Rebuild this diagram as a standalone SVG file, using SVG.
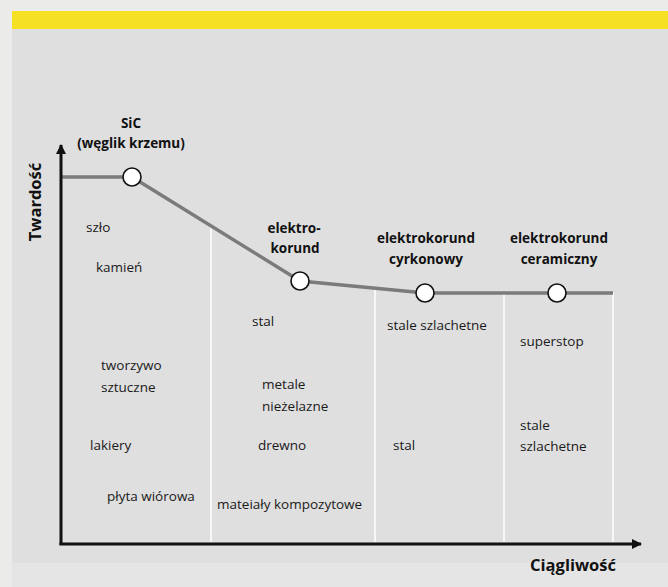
<svg xmlns="http://www.w3.org/2000/svg" width="668" height="587" viewBox="0 0 668 587">
<defs>
<style>
.lbl{font-family:"Open Sans","Noto Sans","DejaVu Sans",sans-serif;font-size:13.5px;fill:#1a1a1a}
.hd{font-family:"Open Sans","Noto Sans","DejaVu Sans",sans-serif;font-size:13.5px;font-weight:bold;fill:#111;text-anchor:middle}
.ax{font-family:"Open Sans","Noto Sans","DejaVu Sans",sans-serif;font-size:16.5px;font-weight:bold;fill:#111}
.axis{stroke:#111;stroke-width:3;fill:none}
.curve{stroke:#7b7b7b;stroke-width:3.5;fill:none;stroke-linejoin:round}
.sep{stroke:#ffffff;stroke-width:1.5}
.pt{fill:#fff;stroke:#111;stroke-width:1.6}
</style>
<marker id="arr" markerWidth="10" markerHeight="10" refX="9" refY="5" orient="auto" markerUnits="userSpaceOnUse" viewBox="0 0 10 10">
<path d="M0,0 L10,5 L0,10 Z" fill="#111"/>
</marker>
</defs>
<rect x="0" y="0" width="668" height="587" fill="#ebebea"/>
<rect x="12" y="29" width="656" height="534" fill="#dfdfdf"/>
<rect x="12" y="563" width="656" height="24" fill="#e5e5e5"/>
<rect x="12" y="11" width="656" height="18" fill="#f6e023"/>

<g id="separators">
<line class="sep" x1="211" y1="227" x2="211" y2="542"/>
<line class="sep" x1="375" y1="288" x2="375" y2="542"/>
<line class="sep" x1="504" y1="292" x2="504" y2="542"/>
<line class="sep" x1="613" y1="292" x2="613" y2="542"/>
</g>

<g id="connectors">
<polyline class="curve" points="62,177 132,177 300,281 425,293 557,293 613,293"/>
<line class="axis" x1="61" y1="545" x2="61" y2="145" marker-end="url(#arr)"/>
<line class="axis" x1="59.5" y1="544" x2="641" y2="544" marker-end="url(#arr)"/>
</g>

<g id="node-sic">
<circle class="pt" cx="132" cy="177" r="9"/>
<text class="hd" x="131" y="128">SiC</text>
<text class="hd" x="131" y="148">(węglik krzemu)</text>
</g>
<g id="node-elektrokorund">
<circle class="pt" cx="300" cy="281" r="9"/>
<text class="hd" x="294" y="233">elektro-</text>
<text class="hd" x="295" y="253">korund</text>
</g>
<g id="node-cyrkonowy">
<circle class="pt" cx="425" cy="293" r="9"/>
<text class="hd" x="426" y="243">elektrokorund</text>
<text class="hd" x="426" y="264">cyrkonowy</text>
</g>
<g id="node-ceramiczny">
<circle class="pt" cx="557" cy="293" r="9"/>
<text class="hd" x="559" y="243">elektrokorund</text>
<text class="hd" x="559" y="264">ceramiczny</text>
</g>

<g id="axis-labels">
<text class="ax" transform="translate(41,202) rotate(-90)" text-anchor="middle">Twardość</text>
<text class="ax" x="616" y="571" text-anchor="end">Ciągliwość</text>
</g>

<g id="materials">
<text class="lbl" x="86" y="232">szło</text>
<text class="lbl" x="96" y="272">kamień</text>
<text class="lbl" x="101" y="370">tworzywo</text>
<text class="lbl" x="101" y="392">sztuczne</text>
<text class="lbl" x="90" y="450">lakiery</text>
<text class="lbl" x="107" y="501">płyta wiórowa</text>
<text class="lbl" x="252" y="326">stal</text>
<text class="lbl" x="262" y="389">metale</text>
<text class="lbl" x="262" y="411">nieżelazne</text>
<text class="lbl" x="258" y="450">drewno</text>
<text class="lbl" x="217" y="509">mateiały kompozytowe</text>
<text class="lbl" x="387" y="330">stale szlachetne</text>
<text class="lbl" x="393" y="450">stal</text>
<text class="lbl" x="520" y="346">superstop</text>
<text class="lbl" x="520" y="430">stale</text>
<text class="lbl" x="520" y="451">szlachetne</text>
</g>
</svg>
